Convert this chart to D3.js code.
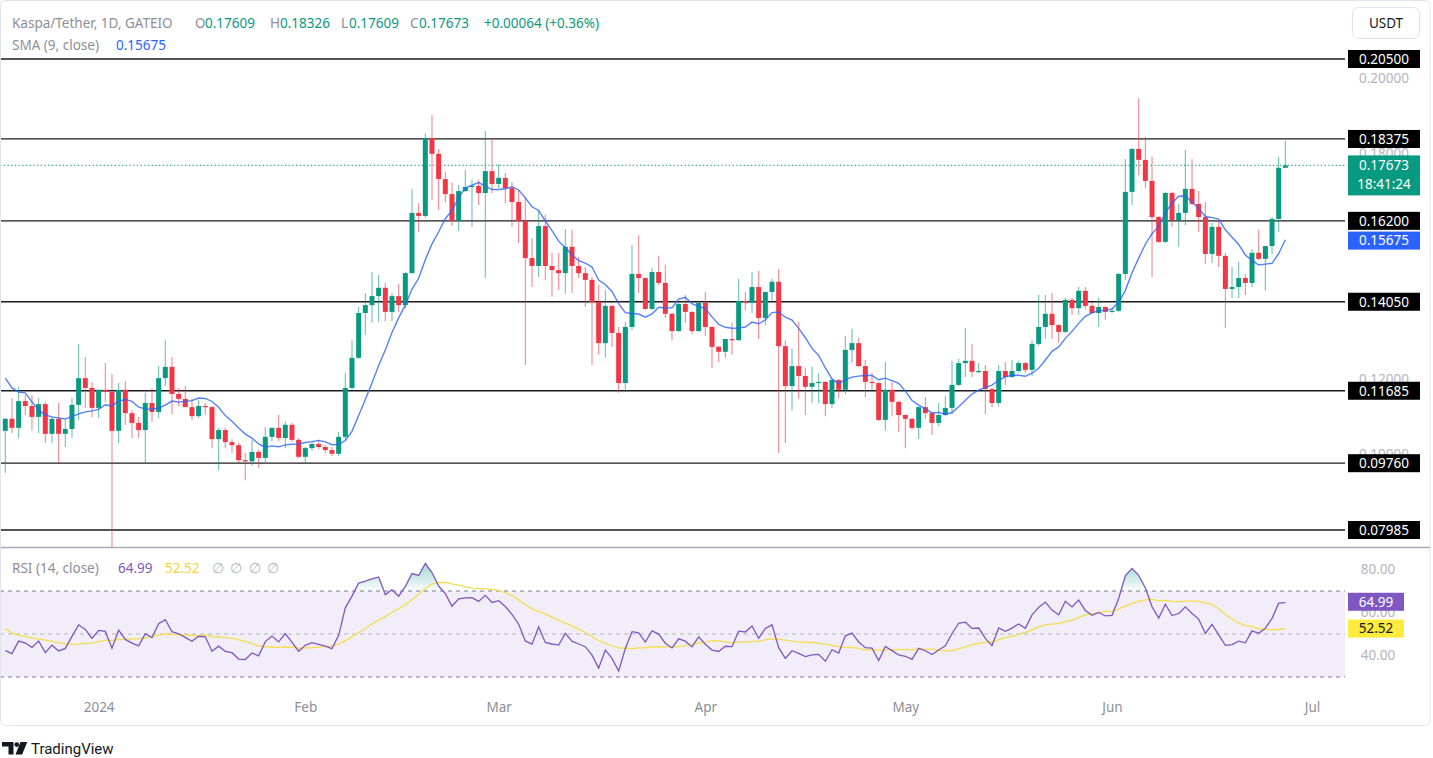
<!DOCTYPE html>
<html><head><meta charset="utf-8">
<script src="https://cdn.jsdelivr.net/npm/d3@7"></script>
<style>
html,body{margin:0;padding:0;background:#fff;}
svg{display:block;font-family:"Noto Sans",Roboto,sans-serif;}
</style></head><body>
<svg id="c" width="1433" height="758"></svg>
<script>
// ---------------- DATA ----------------
const startDate = "2023-12-18";   // first daily candle (1D)
const opens = [
.1062,.1094,.1070,.1141,.1128,.1099,.1133,.1054,.1094,.1054,
.1067,.1131,.1202,.1176,.1123,.1171,.1165,.1062,.1171,.1109,
.1083,.1064,.1136,.1112,.1202,.1232,.1160,.1147,.1125,.1101,
.1128,.1125,.1040,.1064,.1032,.1024,.0984,.0981,.1006,.0990,
.1046,.1070,.1043,.1078,.1038,.0993,.1016,.1027,.1019,.1011,
.1001,.1046,.1176,.1256,.1375,.1396,.1420,.1442,.1378,.1420,
.1396,.1481,.1641,.1633,.1840,.1798,.1731,.1691,.1620,.1699,
.1710,.1713,.1694,.1752,.1718,.1734,.1707,.1670,.1620,.1521,
.1500,.1606,.1500,.1489,.1481,.1551,.1500,.1481,.1463,.1404,
.1295,.1394,.1322,.1189,.1338,.1479,.1468,.1386,.1484,.1455,
.1373,.1327,.1399,.1378,.1327,.1402,.1338,.1285,.1272,.1306,
.1303,.1407,.1402,.1444,.1362,.1431,.1458,.1287,.1181,.1234,
.1208,.1179,.1189,.1192,.1133,.1197,.1171,.1277,.1295,.1234,
.1192,.1189,.1091,.1171,.1139,.1104,.1094,.1070,.1125,.1109,
.1083,.1104,.1123,.1184,.1242,.1248,.1219,.1221,.1173,.1136,
.1221,.1205,.1221,.1242,.1224,.1293,.1338,.1373,.1343,.1325,
.1410,.1388,.1434,.1394,.1375,.1391,.1378,.1381,.1479,.1697,
.1811,.1782,.1726,.1630,.1564,.1694,.1622,.1641,.1705,.1665,
.1630,.1532,.1604,.1527,.1439,.1444,.1468,.1455,.1535,.1519,
.1553,.1625,.17609];
const highs = [
.1096,.1149,.1179,.1157,.1157,.1149,.1139,.1099,.1136,.1091,
.1149,.1293,.1258,.1192,.1173,.1242,.1213,.1189,.1194,.1117,
.1099,.1163,.1176,.1234,.1303,.1258,.1176,.1181,.1147,.1144,
.1136,.1128,.1070,.1070,.1040,.1030,.1003,.1038,.1011,.1072,
.1070,.1104,.1086,.1083,.1043,.1019,.1032,.1038,.1024,.1019,
.1059,.1216,.1303,.1391,.1428,.1484,.1476,.1455,.1428,.1452,
.1484,.1705,.1667,.1853,.1901,.1811,.1750,.1721,.1715,.1755,
.1729,.1729,.1859,.1840,.1771,.1747,.1723,.1702,.1683,.1574,
.1649,.1636,.1535,.1535,.1598,.1596,.1524,.1497,.1471,.1450,
.1436,.1396,.1338,.1351,.1556,.1582,.1470,.1495,.1527,.1503,
.1375,.1402,.1423,.1380,.1402,.1431,.1340,.1288,.1306,.1349,
.1466,.1431,.1484,.1487,.1431,.1466,.1492,.1303,.1280,.1351,
.1229,.1232,.1216,.1194,.1200,.1200,.1314,.1333,.1309,.1250,
.1216,.1192,.1245,.1192,.1141,.1106,.1096,.1127,.1152,.1112,
.1136,.1155,.1248,.1253,.1335,.1293,.1242,.1237,.1176,.1237,
.1245,.1250,.1248,.1245,.1303,.1423,.1423,.1428,.1345,.1415,
.1415,.1444,.1444,.1402,.1415,.1393,.1388,.1481,.1784,.1814,
.1946,.1843,.1790,.1633,.1697,.1697,.1665,.1808,.1784,.1699,
.1670,.1614,.1622,.1535,.1497,.1511,.1479,.1545,.1596,.1553,
.1630,.1790,.18326];
const lows = [
.0950,.1056,.1043,.1104,.1062,.1056,.1030,.1030,.0977,.1019,
.1043,.1091,.1123,.1099,.1096,.1139,.0745,.1030,.1078,.1043,
.1043,.0977,.1086,.1096,.1181,.1107,.1128,.1125,.1091,.1096,
.1104,.1016,.0958,.1016,.1003,.0977,.0931,.0969,.0963,.0979,
.1035,.1035,.1016,.1032,.0990,.0977,.1009,.1014,.1003,.0995,
.0995,.1038,.1171,.1253,.1317,.1349,.1351,.1354,.1354,.1378,
.1388,.1481,.1590,.1628,.1675,.1649,.1670,.1606,.1593,.1697,
.1604,.1662,.1468,.1694,.1707,.1667,.1604,.1561,.1237,.1444,
.1471,.1463,.1418,.1436,.1426,.1428,.1468,.1391,.1237,.1264,
.1256,.1285,.1163,.1165,.1330,.1428,.1383,.1383,.1450,.1362,
.1303,.1325,.1349,.1319,.1325,.1314,.1229,.1245,.1256,.1264,
.1301,.1383,.1375,.1306,.1343,.1402,.1003,.1030,.1117,.1147,
.1104,.1136,.1136,.1101,.1123,.1149,.1160,.1242,.1232,.1152,
.1171,.1088,.1062,.1101,.1059,.1016,.1064,.1040,.1094,.1051,
.1075,.1101,.1107,.1181,.1205,.1205,.1216,.1107,.1125,.1128,
.1184,.1203,.1216,.1216,.1208,.1288,.1306,.1306,.1295,.1322,
.1370,.1370,.1386,.1375,.1338,.1357,.1375,.1378,.1463,.1662,
.1741,.1707,.1471,.1561,.1561,.1604,.1551,.1609,.1662,.1590,
.1505,.1508,.1497,.1335,.1415,.1415,.1423,.1444,.1516,.1434,
.1532,.1590,.17609];
const closes = [
.1094,.1070,.1141,.1128,.1099,.1133,.1054,.1094,.1054,.1067,
.1131,.1202,.1176,.1123,.1171,.1165,.1062,.1171,.1109,.1083,
.1064,.1136,.1112,.1202,.1232,.1160,.1147,.1125,.1101,.1128,
.1125,.1040,.1064,.1032,.1024,.0984,.0981,.1006,.0990,.1046,
.1070,.1043,.1078,.1038,.0993,.1016,.1027,.1019,.1011,.1001,
.1046,.1176,.1256,.1375,.1396,.1420,.1442,.1378,.1420,.1396,
.1481,.1641,.1633,.1840,.1798,.1731,.1691,.1620,.1699,.1710,
.1713,.1694,.1752,.1718,.1734,.1707,.1670,.1620,.1521,.1500,
.1606,.1500,.1489,.1481,.1551,.1500,.1481,.1463,.1404,.1295,
.1394,.1322,.1189,.1338,.1479,.1468,.1386,.1484,.1455,.1373,
.1327,.1399,.1378,.1327,.1402,.1338,.1285,.1272,.1306,.1303,
.1407,.1402,.1444,.1362,.1431,.1458,.1287,.1181,.1234,.1208,
.1179,.1189,.1192,.1133,.1197,.1171,.1277,.1295,.1234,.1192,
.1189,.1091,.1171,.1139,.1104,.1094,.1070,.1125,.1109,.1083,
.1104,.1123,.1184,.1242,.1248,.1219,.1221,.1173,.1136,.1221,
.1205,.1221,.1242,.1224,.1293,.1338,.1373,.1343,.1325,.1410,
.1388,.1434,.1394,.1375,.1391,.1378,.1381,.1479,.1697,.1811,
.1782,.1726,.1630,.1564,.1694,.1622,.1641,.1705,.1665,.1630,
.1532,.1604,.1527,.1439,.1444,.1468,.1455,.1535,.1519,.1553,
.1625,.1761,.17673];

// SMA(9) values before enough candles are on screen
const smaLead = [.1202,.1176,.1165,.1163,.1139,.1117,.1104,.1099];
const smaPeriod = 9;
// RSI(14) settings, seed averages and MA of RSI before 14 values exist (read)
const rsiPeriod = 14;
const rsiSeedGain = 0.0022, rsiSeedLoss = 0.0030;
const rsiMaLead = [52.5,50.5,49.5,48.8,48.2,47.6,47.2,46.6,46.0,45.5,45.2,45.3,45.6];

const levelValues = [0.205,0.18375,0.162,0.1405,0.11685,0.0976,0.07985];
const levelLabels = ["0.20500","0.18375","0.16200","0.14050","0.11685","0.09760","0.07985"];
// only the scale ticks that peek out from behind the level boxes
const priceTicks = [0.10,0.12,0.18,0.20];
const priceTickLabels = ["0.10000","0.12000","0.18000","0.20000"];
const rsiLevels = [70,50,30];
const rsiTicks = [80,60,40];
const rsiTickLabels = ["80.00","60.00","40.00"];
const monthTicks = ["2024-01-01","2024-02-01","2024-03-01","2024-04-01","2024-05-01","2024-06-01","2024-07-01"];
const monthLabels = ["2024","Feb","Mar","Apr","May","Jun","Jul"];

const lastPrice = 0.17673, lastPriceText = "0.17673", countdownText = "18:41:24";
const lastSma = 0.15675, lastSmaText = "0.15675";
const lastRsi = 64.99, lastRsiText = "64.99";
const lastRsiMa = 52.52, lastRsiMaText = "52.52";
const headerTitle = "Kaspa/Tether, 1D, GATEIO";
const headerOHLC = [["O","0.17609"],["H","0.18326"],["L","0.17609"],["C","0.17673"]];
const headerChange = "+0.00064 (+0.36%)";

// ---------------- LAYOUT ----------------
const paneR = 1345;
const mainTop = 0, mainBot = 547;
const rsiTop = 548, rsiBot = 695;
const UP = "#089981", DN = "#F23645";
const GREY = "#8C8F99", LGREY = "#B2B5BE";

const svg = d3.select("#c");
const n = closes.length;
const dates = closes.map((_, i) => d3.utcDay.offset(new Date(startDate), i));

const x = d3.scaleUtc().domain([dates[0], dates[n-1]]).range([5.3, 5.3 + (n-1)*6.667]);
const y = d3.scaleLinear().domain([0.07985, 0.205]).range([530, 59]);
const yr = d3.scaleLinear().domain([30, 70]).range([677, 591]);

// outer frame
svg.append("rect").attr("x",0.5).attr("y",0.5).attr("width",1429.5).attr("height",725)
  .attr("rx",5).attr("fill","#fff").attr("stroke","#E0E3EB");

const defs = svg.append("defs");
defs.append("clipPath").attr("id","mainClip").append("rect")
  .attr("x",1).attr("y",mainTop+1).attr("width",paneR-1).attr("height",mainBot-mainTop-1);
defs.append("clipPath").attr("id","rsiClip").append("rect")
  .attr("x",1).attr("y",rsiTop).attr("width",paneR-1).attr("height",rsiBot-rsiTop);
const grad = defs.append("linearGradient").attr("id","obGrad")
  .attr("gradientUnits","userSpaceOnUse").attr("x1",0).attr("x2",0)
  .attr("y1",yr(85)).attr("y2",yr(70));
grad.append("stop").attr("offset","0%").attr("stop-color",UP).attr("stop-opacity",0.45);
grad.append("stop").attr("offset","100%").attr("stop-color",UP).attr("stop-opacity",0.02);

// ---------- MAIN PANE ----------
const main = svg.append("g").attr("clip-path","url(#mainClip)");

main.selectAll("line.lvl").data(levelValues).join("line")
  .attr("x1",0).attr("x2",paneR+5)
  .attr("y1",d=>y(d)).attr("y2",d=>y(d))
  .attr("stroke","#1b1b1f").attr("stroke-width",1.3);

main.append("line").attr("x1",0).attr("x2",paneR)
  .attr("y1",y(lastPrice)).attr("y2",y(lastPrice))
  .attr("stroke","#22AB94").attr("stroke-width",1.3).attr("stroke-dasharray","1.3,2.4");

const cg = main.append("g");
const idx = d3.range(n);
cg.selectAll("line.wick").data(idx).join("line")
  .attr("x1",i=>x(dates[i])).attr("x2",i=>x(dates[i]))
  .attr("y1",i=>y(highs[i])).attr("y2",i=>y(lows[i]))
  .attr("stroke",i=>closes[i]>=opens[i]?UP:DN).attr("stroke-opacity",0.6).attr("stroke-width",1.1);
cg.selectAll("rect.body").data(idx).join("rect")
  .attr("x",i=>x(dates[i])-2.5).attr("width",5)
  .attr("y",i=>y(Math.max(opens[i],closes[i])))
  .attr("height",i=>Math.max(1.2, Math.abs(y(opens[i])-y(closes[i]))))
  .attr("fill",i=>closes[i]>=opens[i]?UP:DN);

const sma = closes.map((c,i)=> i < smaPeriod-1 ? smaLead[i] : d3.mean(closes.slice(i-smaPeriod+1, i+1)));
main.append("path").datum(sma)
  .attr("d", d3.line().x((d,i)=>x(dates[i])).y(d=>y(d)))
  .attr("fill","none").attr("stroke","#2962FF").attr("stroke-opacity",0.8).attr("stroke-width",1.4);

// header
const hdr = svg.append("g").attr("font-size",13.5);
hdr.append("text").attr("x",12).attr("y",28).attr("fill",GREY).text(headerTitle);
const hx = [[195,205],[270,280],[341,349],[410,419]];
headerOHLC.forEach((p,k)=>{
  hdr.append("text").attr("x",hx[k][0]).attr("y",28).attr("fill",GREY).text(p[0]);
  hdr.append("text").attr("x",hx[k][1]).attr("y",28).attr("fill",UP).text(p[1]);
});
hdr.append("text").attr("x",484).attr("y",28).attr("fill",UP).text(headerChange);
hdr.append("text").attr("x",12).attr("y",50).attr("fill",GREY).text("SMA (9, close)");
hdr.append("text").attr("x",116).attr("y",50).attr("fill","#2962FF").text(lastSmaText);

// ---------- PRICE SCALE ----------
const ps = svg.append("g").attr("font-size",13.5).attr("text-anchor","middle");
ps.selectAll("text.tick").data(priceTicks).join("text")
  .attr("x",1384).attr("y",d=>y(d)).attr("dy","0.36em").attr("fill",LGREY)
  .text((d,i)=>priceTickLabels[i]);
const boxW = 72, boxX = 1348;
levelValues.forEach((v,i)=>{
  ps.append("rect").attr("x",boxX).attr("y",y(v)-9).attr("width",boxW).attr("height",18).attr("fill","#000");
  ps.append("text").attr("x",boxX+boxW/2).attr("y",y(v)).attr("dy","0.36em").attr("fill","#fff").text(levelLabels[i]);
});
ps.append("rect").attr("x",boxX).attr("y",y(lastPrice)-10).attr("width",boxW).attr("height",40).attr("fill",UP);
ps.append("text").attr("x",boxX+boxW/2).attr("y",y(lastPrice)).attr("dy","0.36em").attr("fill","#fff").text(lastPriceText);
ps.append("text").attr("x",boxX+boxW/2).attr("y",y(lastPrice)+19).attr("dy","0.36em").attr("fill","#fff").text(countdownText);
ps.append("rect").attr("x",boxX).attr("y",y(lastSma)-9).attr("width",boxW).attr("height",18).attr("fill","#2962FF");
ps.append("text").attr("x",boxX+boxW/2).attr("y",y(lastSma)).attr("dy","0.36em").attr("fill","#fff").text(lastSmaText);

svg.append("rect").attr("x",1352.5).attr("y",7.5).attr("width",67).attr("height",31).attr("rx",6)
  .attr("fill","#fff").attr("stroke","#E0E3EB");
svg.append("text").attr("x",1386).attr("y",23).attr("dy","0.36em").attr("text-anchor","middle")
  .attr("font-size",13.5).attr("fill","#131722").text("USDT");

svg.append("line").attr("x1",1).attr("x2",1430).attr("y1",mainBot+0.5).attr("y2",mainBot+0.5)
  .attr("stroke","#A8ABB4").attr("stroke-width",1.6);

// ---------- RSI PANE ----------
const rg = svg.append("g").attr("clip-path","url(#rsiClip)");
rg.append("rect").attr("x",0).attr("width",paneR).attr("y",yr(70)).attr("height",yr(30)-yr(70))
  .attr("fill","#7E57C2").attr("fill-opacity",0.1);
rg.selectAll("line.rl").data(rsiLevels).join("line")
  .attr("x1",0).attr("x2",paneR).attr("y1",d=>yr(d)).attr("y2",d=>yr(d))
  .attr("stroke",d=>d===50?"#B2B5BE":"#787B86").attr("stroke-width",1).attr("stroke-dasharray","4,4");

const rsi = [];
let ag = rsiSeedGain, al = rsiSeedLoss;
for (let i=0;i<n;i++){
  if (i>0){
    const ch = closes[i]-closes[i-1];
    ag = (ag*(rsiPeriod-1) + Math.max(ch,0))/rsiPeriod;
    al = (al*(rsiPeriod-1) + Math.max(-ch,0))/rsiPeriod;
  }
  rsi.push(al===0 ? 100 : 100 - 100/(1+ag/al));
}
const rsiMa = rsi.map((r,i)=> i < rsiPeriod-1 ? rsiMaLead[i] : d3.mean(rsi.slice(i-rsiPeriod+1,i+1)));

rg.append("path").datum(rsi)
  .attr("d", d3.area().x((d,i)=>x(dates[i])).y0(yr(70)).y1(d=>yr(Math.max(d,70))))
  .attr("fill","url(#obGrad)");
rg.append("path").datum(rsiMa)
  .attr("d", d3.line().x((d,i)=>x(dates[i])).y(d=>yr(d)))
  .attr("fill","none").attr("stroke","#F5DC4C").attr("stroke-width",1.3);
rg.append("path").datum(rsi)
  .attr("d", d3.line().x((d,i)=>x(dates[i])).y(d=>yr(d)))
  .attr("fill","none").attr("stroke","#7E57C2").attr("stroke-width",1.3);

const rh = svg.append("g").attr("font-size",13.5);
rh.append("text").attr("x",12).attr("y",573).attr("fill",GREY).text("RSI (14, close)");
rh.append("text").attr("x",118).attr("y",573).attr("fill","#7E57C2").text(lastRsiText);
rh.append("text").attr("x",165).attr("y",573).attr("fill","#F2D338").text(lastRsiMaText);
[212,230,249,267].forEach(px=> rh.append("text").attr("x",px).attr("y",573).attr("fill",LGREY).text("\u2205"));

const rs = svg.append("g").attr("font-size",13.5).attr("text-anchor","middle");
rs.selectAll("text").data(rsiTicks).join("text")
  .attr("x",1378).attr("y",d=>yr(d)).attr("dy","0.36em").attr("fill",LGREY).text((d,i)=>rsiTickLabels[i]);
rs.append("rect").attr("x",1348).attr("y",yr(lastRsi)-9).attr("width",56).attr("height",18).attr("fill","#7E57C2");
rs.append("text").attr("x",1376).attr("y",yr(lastRsi)).attr("dy","0.36em").attr("fill","#fff").text(lastRsiText);
rs.append("rect").attr("x",1348).attr("y",yr(lastRsiMa)-9).attr("width",56).attr("height",18).attr("fill","#FFEB3B");
rs.append("text").attr("x",1376).attr("y",yr(lastRsiMa)).attr("dy","0.36em").attr("fill","#131722").text(lastRsiMaText);

// ---------- TIME AXIS ----------
const xAxis = d3.axisBottom(x)
  .tickValues(monthTicks.map(s=>new Date(s)))
  .tickFormat((d,i)=>monthLabels[i]).tickSize(0).tickPadding(0);
const xa = svg.append("g").attr("transform","translate(0,702)").call(xAxis);
xa.select(".domain").remove();
xa.selectAll("text").attr("font-size",13.5).attr("fill","#8C8F99")
  .attr("font-family","\"Noto Sans\",Roboto,sans-serif");

// ---------- TradingView logo ----------
const logo = svg.append("g").attr("fill","#131722");
logo.append("path").attr("d","M2,742 h11.5 v12.5 h-5 v-8 h-6.5 z");
logo.append("circle").attr("cx",16.8).attr("cy",744.6).attr("r",2.4);
logo.append("path").attr("d","M20.5,742 h6.8 l-5.2,12.5 h-6.6 z");
svg.append("text").attr("x",31).attr("y",753.5).attr("font-size",15).attr("fill","#131722")
  .attr("font-family","Roboto,\"Noto Sans\",sans-serif").text("TradingView");
</script>
</body></html>
